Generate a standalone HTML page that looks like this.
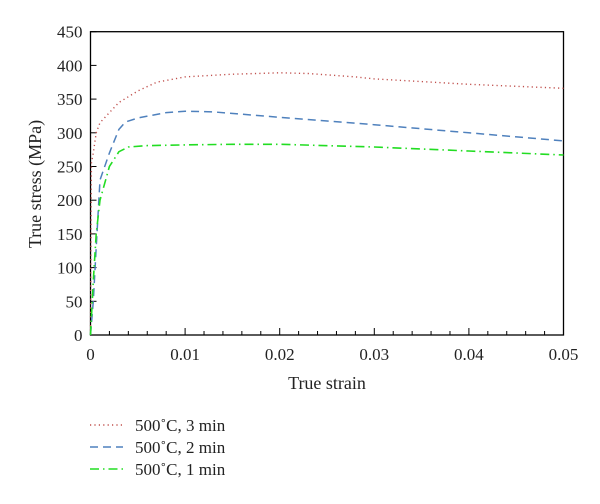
<!DOCTYPE html>
<html><head><meta charset="utf-8"><style>
html,body{margin:0;padding:0;background:#fff;}
svg{display:block;font-family:"Liberation Serif",serif;}
</style></head><body>
<svg id="chart" width="600" height="504" viewBox="0 0 600 504">
<g id="grid"></g>
<g id="series"></g>
<g id="legend"></g>
</svg>
<script>
const xTicks=[0,0.01,0.02,0.03,0.04,0.05];
const xTickLabels=["0","0.01","0.02","0.03","0.04","0.05"];
const yTicks=[0,50,100,150,200,250,300,350,400,450];
const seriesNames=["500˚C, 3 min","500˚C, 2 min","500˚C, 1 min"];
const strain3=[0,0.0001,0.0003,0.0006,0.001,0.002,0.003,0.005,0.007,0.01,0.015,0.02,0.023,0.028,0.03,0.035,0.04,0.045,0.05];
const stress3=[0,255,270,300,315,330,345,362,375,383,387,389,388,383,380,376,372,369,366];
const strain2=[0,0.0003,0.0006,0.001,0.002,0.003,0.0037,0.005,0.008,0.01,0.013,0.02,0.03,0.04,0.05];
const stress2=[0,50,130,230,270,305,316,322,330,332,331,323,312,300,288];
const strain1=[0,0.0003,0.0006,0.001,0.002,0.003,0.004,0.006,0.01,0.015,0.02,0.03,0.04,0.05];
const stress1=[0,80,150,200,250,272,279,281,282,283,283,279,273,267];

const NS="http://www.w3.org/2000/svg";
const L=90.5,R=563.5,T=31.7,B=335;
const xs=v=>L+(v-0)/(0.05)*(R-L);
const ys=v=>B-v/450*(B-T);
function mk(tag,attrs,parent){const e=document.createElementNS(NS,tag);for(const k in attrs)e.setAttribute(k,attrs[k]);parent.appendChild(e);return e;}
const g=document.getElementById('grid');
const frame=mk('rect',{x:L,y:T,width:R-L,height:B-T,fill:'none',stroke:'#000','stroke-width':1.3},g);


for(let i=0;i<=25;i++){
  const v=i*0.002;const x=xs(v);const major=i%5===0;
  const t=mk('line',{x1:x,x2:x,y1:B,y2:B-(major?7:4),stroke:'#000','stroke-width':1},g);
  
  
}
xTicks.forEach((v,i)=>{
  const t=mk('text',{x:xs(v),y:B+25,'text-anchor':'middle','font-size':17,fill:'#222'},g);
  t.textContent=xTickLabels[i];
  
  
});
yTicks.forEach(v=>{
  const y=ys(v);
  const tk=mk('line',{x1:L,x2:L+6,y1:y,y2:y,stroke:'#000','stroke-width':1},g);
  
  
  const t=mk('text',{x:L-8,y:y+6,'text-anchor':'end','font-size':17,fill:'#222'},g);
  t.textContent=String(v);
  
  
});
const xt=mk('text',{x:(L+R)/2,y:389,'text-anchor':'middle','font-size':18,fill:'#222'},g);
xt.textContent="True strain";


const yt=mk('text',{x:0,y:0,'text-anchor':'middle','font-size':18,fill:'#222',transform:'translate(41,184) rotate(-90)'},g);
yt.textContent="True stress (MPa)";



const styles=[{c:'#c0504d',d:'1.2 3.2',w:1.4},{c:'#4f81bd',d:'8 5',w:1.5},{c:'#22dd22',d:'9 4 1.5 4',w:1.6}];
const data=[[strain3,stress3],[strain2,stress2],[strain1,stress1]];
const sg=document.getElementById('series');
const names=['line-3min','line-2min','line-1min'];
data.forEach((d,i)=>{
  const pts=d[0].map((x,j)=>xs(x).toFixed(1)+','+ys(d[1][j]).toFixed(1)).join(' ');
  const p=mk('polyline',{points:pts,fill:'none',stroke:styles[i].c,'stroke-width':styles[i].w,'stroke-dasharray':styles[i].d},sg);
  
  
});
const lg=document.getElementById('legend');
seriesNames.forEach((n,i)=>{
  const y=425+i*22;
  const ln=mk('line',{x1:90,x2:123,y1:y,y2:y,stroke:styles[i].c,'stroke-width':styles[i].w,'stroke-dasharray':styles[i].d},lg);
  
  
  const t=mk('text',{x:135,y:y+6,'font-size':17,fill:'#222'},lg);
  t.textContent=n;
  
  
});
</script>
</body></html>
